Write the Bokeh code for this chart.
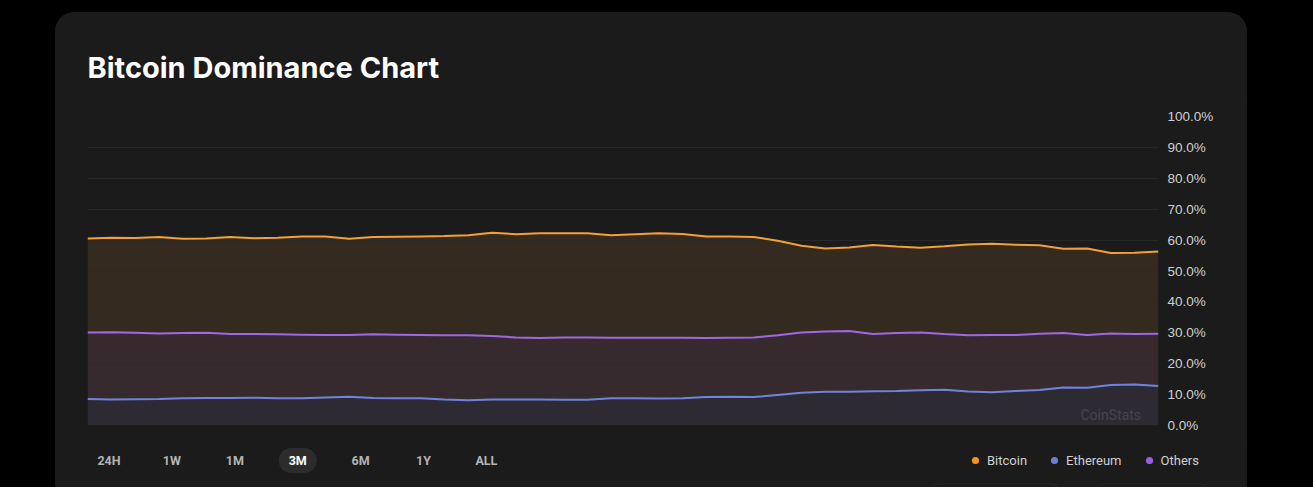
import pandas as pd
from bokeh.plotting import figure
from bokeh.models import (Range1d, FixedTicker, PrintfTickFormatter, Label, Legend,
                          LegendItem, BoxAnnotation, GlobalInlineStyleSheet)
from bokeh.layouts import column
from bokeh.embed import file_html
from bokeh.resources import INLINE

# ---------------- data (3M, dominance in %) ----------------
dates = pd.date_range("2024-05-20", periods=46, freq="2D")
bitcoin = [60.5, 60.8, 60.7, 61.0, 60.4, 60.5, 61.0, 60.6, 60.8, 61.2,
           61.2, 60.4, 61.0, 61.1, 61.2, 61.3, 61.6, 62.4, 61.9, 62.2,
           62.2, 62.2, 61.6, 61.9, 62.2, 62.0, 61.2, 61.2, 61.0, 59.8,
           58.2, 57.3, 57.6, 58.4, 57.9, 57.5, 58.0, 58.6, 58.8, 58.5,
           58.3, 57.2, 57.3, 55.8, 55.9, 56.3]
others = [30.1, 30.2, 30.0, 29.8, 29.9, 30.0, 29.6, 29.6, 29.5, 29.4,
          29.3, 29.3, 29.5, 29.4, 29.3, 29.2, 29.2, 29.0, 28.5, 28.3,
          28.5, 28.5, 28.4, 28.4, 28.4, 28.4, 28.3, 28.4, 28.5, 29.2,
          30.1, 30.4, 30.6, 29.6, 29.9, 30.1, 29.6, 29.2, 29.3, 29.3,
          29.7, 29.9, 29.3, 29.8, 29.6, 29.7]
ethereum = [8.6, 8.4, 8.5, 8.6, 8.8, 8.9, 8.9, 9.0, 8.8, 8.8,
            9.1, 9.3, 8.9, 8.8, 8.8, 8.4, 8.2, 8.4, 8.4, 8.4,
            8.3, 8.3, 8.8, 8.8, 8.7, 8.8, 9.2, 9.3, 9.2, 9.9,
            10.6, 10.9, 10.9, 11.1, 11.2, 11.4, 11.6, 11.0, 10.8, 11.2,
            11.5, 12.3, 12.2, 13.1, 13.3, 12.8]
y_ticks = [0, 10, 20, 30, 40, 50, 60, 70, 80, 90, 100]
periods = ["24H", "1W", "1M", "3M", "6M", "1Y", "ALL"]
active_period = "3M"
series_names = ["Bitcoin", "Ethereum", "Others"]
series_colors = ["#f7931a", "#6a7fdb", "#9b5fe0"]
line_colors = ["#f4a034", "#6f83de", "#a267df"]
title_text = "Bitcoin Dominance Chart"

CARD = "#1b1b1b"
W = 1192


def blank(height):
    f = figure(width=W, height=height, output_backend="svg", toolbar_location=None, tools="",
               x_axis_location=None, y_axis_location=None,
               x_range=Range1d(0, W), y_range=Range1d(0, height),
               min_border=0, min_border_left=0, min_border_right=0,
               min_border_top=0, min_border_bottom=0,
               background_fill_color=CARD, border_fill_color=CARD)
    f.outline_line_color = None
    f.grid.visible = False
    f.styles = {"background-color": CARD}
    return f


# ---------------- header ----------------
head = blank(88)
head.add_layout(Label(x=32, y=33, x_units="screen", y_units="screen", text=title_text,
                      text_font="Inter", text_font_style="bold", text_font_size="29px",
                      text_color="#ffffff", text_baseline="alphabetic"))

# ---------------- main chart ----------------
p = figure(width=W, height=340, output_backend="svg", toolbar_location=None, tools="",
           x_axis_location=None, y_axis_location="right",
           x_range=Range1d(dates[0], dates[-1]), y_range=Range1d(0, 100),
           min_border_left=32, min_border_right=89, min_border_top=16, min_border_bottom=15,
           background_fill_color=CARD, border_fill_color=CARD)
p.styles = {"background-color": CARD}
p.outline_line_color = None
p.xgrid.visible = False
p.ygrid.ticker = FixedTicker(ticks=y_ticks)
p.ygrid.grid_line_color = "#2a2a2a"
p.ygrid.grid_line_alpha = 0.8

zeros = [0] * len(dates)
p.varea(x=dates, y1=others, y2=bitcoin, fill_color="#352a1f", level="image")
p.varea(x=dates, y1=ethereum, y2=others, fill_color="#372a2f", level="image")
p.varea(x=dates, y1=zeros, y2=ethereum, fill_color="#2e2a34", level="image")

p.line(dates, bitcoin, line_color=line_colors[0], line_width=2)
p.line(dates, others, line_color=line_colors[2], line_width=2)
p.line(dates, ethereum, line_color=line_colors[1], line_width=2)

ax = p.yaxis[0]
ax.ticker = FixedTicker(ticks=y_ticks)
ax.formatter = PrintfTickFormatter(format="%.1f%%")
ax.axis_line_color = None
ax.major_tick_line_color = None
ax.minor_tick_line_color = None
ax.major_tick_out = 0
ax.major_tick_in = 0
ax.minor_tick_out = 0
ax.major_label_standoff = 9
ax.major_label_text_font = "Liberation Sans"
ax.major_label_text_font_size = "13.5px"
ax.major_label_text_color = "#d0d0d0"

p.add_layout(Label(x=993, y=11, x_units="screen", y_units="screen", text="CoinStats",
                   text_font="Roboto", text_font_size="14px",
                   text_color="#45434d", text_baseline="middle"))

# ---------------- footer ----------------
foot = blank(47)
for i, name in enumerate(periods):
    cx = 53.5 + 62.9 * i
    active = name == active_period
    kw = {}
    if active:
        kw = dict(background_fill_color="#2c2c2c", border_radius=13,
                  padding=dict(left=10, right=10, top=5, bottom=5))
    foot.add_layout(Label(x=cx, y=27, x_units="screen", y_units="screen", text=name,
                          text_font="Roboto", text_font_style="bold", text_font_size="12.5px",
                          text_color="#ffffff" if active else "#b3b3b3",
                          text_align="center", text_baseline="middle", **kw))

items = []
for name, col in zip(series_names, series_colors):
    r = foot.scatter(x=[0], y=[float("nan")], marker="circle", size=7,
                     fill_color=col, line_color=None)
    items.append(LegendItem(label=name, renderers=[r]))
legend = Legend(items=items, orientation="horizontal", location=(911, 18),
                glyph_width=18, glyph_height=18, label_standoff=3, spacing=18,
                padding=0, margin=0, border_line_color=None, background_fill_alpha=0,
                label_text_font="Roboto", label_text_font_size="13px",
                label_text_color="#d0d0d0", label_height=18)
foot.add_layout(legend)

for l, r in [(872, 1005), (1038, 1155)]:
    foot.add_layout(BoxAnnotation(left=l, right=r, bottom=-30, top=4,
                                  left_units="screen", right_units="screen",
                                  bottom_units="screen", top_units="screen",
                                  fill_alpha=0, line_color="#333333", line_width=1.5,
                                  border_radius=12))

card = column(column(head), column(p), column(foot), spacing=0,
              styles={"margin-left": "55px", "margin-top": "12px",
                      "background-color": CARD, "border-radius": "20px 20px 0 0",
                      "overflow": "hidden"},
              stylesheets=[GlobalInlineStyleSheet(css="html, body { background: #000; margin: 0; }")])

open("out.html", "w").write(file_html(card, INLINE))
